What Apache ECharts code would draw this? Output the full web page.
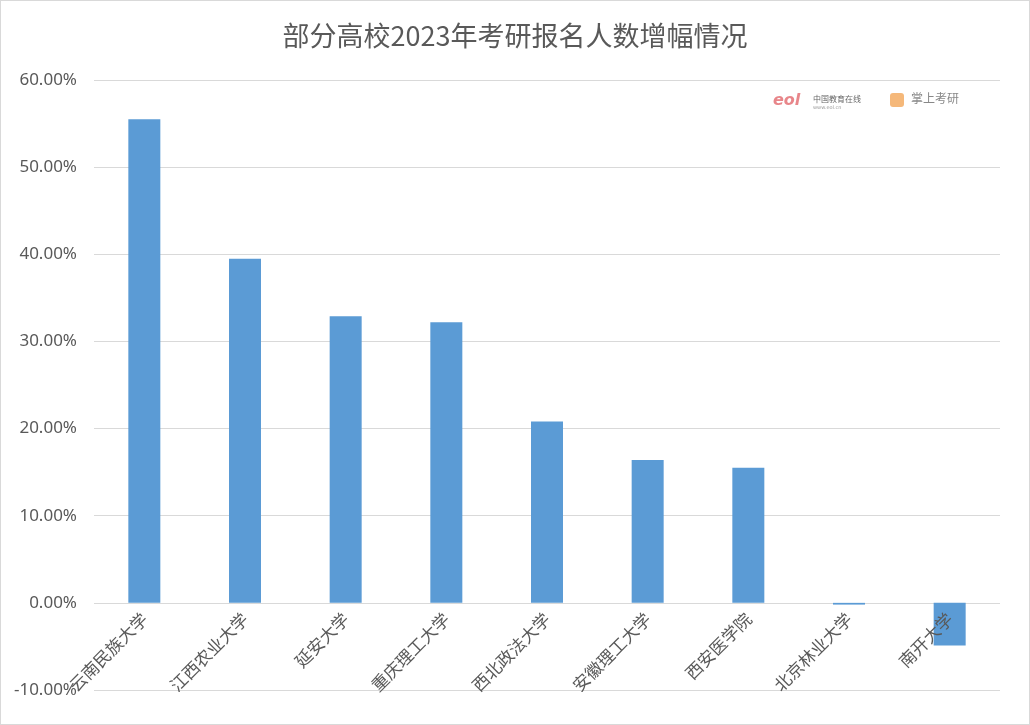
<!DOCTYPE html>
<html><head><meta charset="utf-8">
<script src="https://cdn.jsdelivr.net/npm/echarts@6/dist/echarts.min.js"></script>
<style>html,body{margin:0;padding:0;background:#fff}#c{width:1028px;height:723px;border:1px solid #d9d9d9}</style>
</head><body><div id="c"></div>
<script>
const categories = ['云南民族大学','江西农业大学','延安大学','重庆理工大学','西北政法大学','安徽理工大学','西安医学院','北京林业大学','南开大学'];
const growth = [55.5, 39.5, 32.9, 32.2, 20.8, 16.4, 15.5, -0.2, -4.9];
const title = '部分高校2023年考研报名人数增幅情况';
const chart = echarts.init(document.getElementById('c'));
chart.setOption({
  animation:false,
  title:{text:title,left:'center',top:16,textStyle:{fontFamily:'Noto Sans CJK SC',fontSize:27,fontWeight:'normal',color:'#595959'}},
  grid:{left:93,right:29,top:79,bottom:34,outerBoundsMode:'none',containLabel:false},
  xAxis:{type:'category',data:categories,offset:-87,z:5,
    axisLine:{show:false,onZero:false},axisTick:{show:false},
    axisLabel:{rotate:45,interval:0,margin:13,fontFamily:'Noto Sans CJK SC',fontSize:17,color:'#595959'}},
  yAxis:{type:'value',min:-10,max:60,interval:10,
    axisLine:{show:false},axisTick:{show:false},
    splitLine:{lineStyle:{color:'#d9d9d9',width:1}},
    axisLabel:{margin:17,fontFamily:'Noto Sans',fontSize:17,color:'#595959',formatter:v=>v.toFixed(2)+'%'}},
  series:[{type:'bar',data:growth,barWidth:32,z:2,itemStyle:{color:'#5b9bd5'}}],
  graphic:[
    {type:'text',left:772,top:92,style:{text:'eol',fontSize:16,fontWeight:'bold',fontStyle:'italic',fill:'#e8868a',fontFamily:'DejaVu Sans'}},
    {type:'text',left:812,top:94,style:{text:'中国教育在线',fontSize:8,fill:'#666',fontFamily:'Noto Sans CJK SC'}},
    {type:'text',left:812,top:104,style:{text:'www.eol.cn',fontSize:5,fill:'#999',fontFamily:'DejaVu Sans'}},
    {type:'rect',left:889,top:92,shape:{width:14,height:14,r:3},style:{fill:'#f5b87a'}},
    {type:'text',left:910,top:91,style:{text:'掌上考研',fontSize:12,fill:'#888',fontFamily:'Noto Sans CJK SC'}}
  ]
});
</script></body></html>
